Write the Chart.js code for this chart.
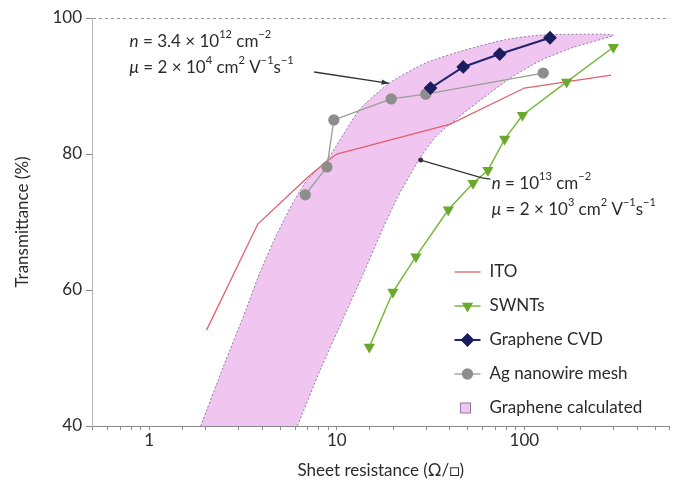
<!DOCTYPE html>
<html lang="en">
<head>
<meta charset="UTF-8">
<title>Transmittance vs sheet resistance</title>
<script src="https://cdn.jsdelivr.net/npm/chart.js@4"></script>
<style>
  html, body { margin: 0; padding: 0; background: #fff; }
</style>
</head>
<body>
<canvas id="chart" width="677" height="483"></canvas>
<script>
// values: sheet resistance (ohm/sq) and transmittance (%)
const itoR = [2.02, 3.79, 6.95, 8.64, 10, 40.3, 100, 290];
const itoT = [54.1, 69.7, 76.5, 78.7, 80.0, 84.4, 89.7, 91.6];

const swntR = [14.9, 19.9, 26.4, 39.3, 53.2, 63.9, 78.5, 97.6, 168, 298];
const swntT = [51.6, 59.7, 64.9, 71.8, 75.7, 77.6, 82.2, 85.7, 90.6, 95.7];

const cvdR = [31.6, 47.2, 73.9, 137];
const cvdT = [89.7, 92.8, 94.7, 97.1];

const agR = [6.79, 8.86, 9.64, 19.5, 29.8, 126];
const agT = [74.0, 78.1, 85.0, 88.1, 88.8, 91.9];

// calculated graphene band: upper edge (bottom -> top), lower edge (top -> bottom)
const bandUpR = [1.88, 2.48, 3.28, 3.88, 4.83, 5.94, 6.95, 8.86, 13.2, 19.0, 29.8, 48.3, 78.5, 123, 298];
const bandUpT = [40, 48.7, 57.1, 62.5, 68.4, 73.2, 76.2, 79.1, 86.5, 90.4, 93.4, 95.3, 96.8, 97.5, 97.5];
const bandLoR = [183, 123, 85.5, 61.5, 44.4, 33.6, 27.3, 20.7, 16.8, 13.9, 10.9, 8.14, 6.16];
const bandLoT = [95.7, 93.8, 91.3, 88.4, 85.4, 82.5, 79.1, 73.2, 67.8, 62.5, 56.0, 48.2, 40];

const xTickLabels = [1, 10, 100];
const yTicks = [40, 60, 80, 100];

const FONT = 'Lato, "DejaVu Sans", sans-serif';
const TXT = '#2b2b2b';

function pts(xs, ys) {
  return xs.map((x, i) => ({ x: x, y: ys[i] }));
}

// draw text with superscripts / italics
function drawRuns(ctx, parts, x, y) {
  let cx = x;
  parts.forEach(function (p) {
    const sup = p[1] === 'sup';
    ctx.font = (p[1] === 'i' ? 'italic ' : '') + (sup ? 11 : 17) + 'px ' + FONT;
    ctx.fillText(p[0], cx, sup ? y - 7 : y);
    cx += ctx.measureText(p[0]).width;
  });
  return cx;
}

const notes = {
  id: 'notes',
  afterDatasetsDraw(chart) {
    const ctx = chart.ctx, sx = chart.scales.x, sy = chart.scales.y;
    const X = v => sx.getPixelForValue(v), Y = v => sy.getPixelForValue(v);
    ctx.save();
    ctx.fillStyle = TXT;
    ctx.strokeStyle = '#333';
    ctx.textBaseline = 'middle';
    ctx.textAlign = 'left';

    // upper label + arrow
    drawRuns(ctx, [['n', 'i'], [' = 3.4 \u00d7 10', ''], ['12', 'sup'], [' cm', ''], ['\u22122', 'sup']], X(0.785), Y(96.5));
    drawRuns(ctx, [['\u03bc', 'i'], [' = 2 \u00d7 10', ''], ['4', 'sup'], [' cm', ''], ['2', 'sup'], [' V', ''], ['\u22121', 'sup'], ['s', ''], ['\u22121', 'sup']], X(0.785), Y(92.7));
    const ax0 = X(7.57), ay0 = Y(92.06), ax1 = X(19.0), ay1 = Y(90.4);
    ctx.lineWidth = 1.3;
    ctx.beginPath(); ctx.moveTo(ax0, ay0); ctx.lineTo(ax1, ay1); ctx.stroke();
    const ang = Math.atan2(ay1 - ay0, ax1 - ax0);
    ctx.beginPath();
    ctx.moveTo(ax1, ay1);
    ctx.lineTo(ax1 - 8 * Math.cos(ang - 0.35), ay1 - 8 * Math.sin(ang - 0.35));
    ctx.lineTo(ax1 - 8 * Math.cos(ang + 0.35), ay1 - 8 * Math.sin(ang + 0.35));
    ctx.closePath(); ctx.fillStyle = '#333'; ctx.fill();

    // lower label + leader
    ctx.beginPath();
    ctx.moveTo(X(28.0), Y(79.1)); ctx.lineTo(X(59.4), Y(76.5)); ctx.lineTo(X(66), Y(76.3));
    ctx.stroke();
    ctx.beginPath(); ctx.arc(X(28.0), Y(79.1), 2.5, 0, Math.PI * 2); ctx.fill();
    ctx.fillStyle = TXT;
    drawRuns(ctx, [['n', 'i'], [' = 10', ''], ['13', 'sup'], [' cm', ''], ['\u22122', 'sup']], X(67), Y(75.7));
    drawRuns(ctx, [['\u03bc', 'i'], [' = 2 \u00d7 10', ''], ['3', 'sup'], [' cm', ''], ['2', 'sup'], [' V', ''], ['\u22121', 'sup'], ['s', ''], ['\u22121', 'sup']], X(67), Y(71.8));
    ctx.restore();
  }
};

// legend inside the plot, lower right
const legendBox = {
  id: 'legendBox',
  afterDraw(chart) {
    const ctx = chart.ctx;
    const area = chart.chartArea;
    const lx = area.right - 215, tx = area.right - 180, y0 = area.bottom - 154, dy = 34;
    ctx.save();
    ctx.textBaseline = 'middle';
    ctx.font = '17px ' + FONT;
    chart.data.datasets.forEach(function (ds, i) {
      const y = y0 + i * dy;
      if (ds.fill) {
        ctx.fillStyle = ds.backgroundColor;
        ctx.strokeStyle = ds.borderColor;
        ctx.lineWidth = 1;
        ctx.fillRect(lx + 6, y - 5, 10, 10);
        ctx.strokeRect(lx + 6, y - 5, 10, 10);
      } else {
        ctx.strokeStyle = ds.borderColor;
        ctx.lineWidth = ds.borderWidth;
        ctx.beginPath(); ctx.moveTo(lx, y); ctx.lineTo(lx + 26, y); ctx.stroke();
        if (ds.pointRadius > 0) {
          ctx.fillStyle = ds.pointBackgroundColor;
          ctx.strokeStyle = ds.pointBorderColor;
          Chart.helpers.drawPoint(ctx, {
            pointStyle: ds.pointStyle, rotation: ds.pointRotation || 0,
            radius: ds.pointRadius, borderWidth: 1
          }, lx + 13, y);
        }
      }
      ctx.fillStyle = TXT;
      ctx.font = '17px ' + FONT;
      ctx.fillText(ds.label, tx, y);
    });
    ctx.restore();
  }
};

new Chart(document.getElementById('chart'), {
  type: 'scatter',
  data: {
    datasets: [
      {
        label: 'ITO', data: pts(itoR, itoT), showLine: true, order: 4,
        borderColor: '#e2606b', borderWidth: 1.3, pointRadius: 0
      },
      {
        label: 'SWNTs', data: pts(swntR, swntT), showLine: true, order: 2,
        borderColor: '#78b83c', borderWidth: 1.5,
        pointStyle: 'triangle', pointRotation: 180, pointRadius: 5,
        pointBackgroundColor: '#6aa92d', pointBorderColor: '#6aa92d'
      },
      {
        label: 'Graphene CVD', data: pts(cvdR, cvdT), showLine: true, order: 1,
        borderColor: '#23246e', borderWidth: 2,
        pointStyle: 'rectRot', pointRadius: 5.5,
        pointBackgroundColor: '#1c1d5e', pointBorderColor: '#1c1d5e'
      },
      {
        label: 'Ag nanowire mesh', data: pts(agR, agT), showLine: true, order: 3,
        borderColor: '#93a08e', borderWidth: 1.3,
        pointStyle: 'circle', pointRadius: 5,
        pointBackgroundColor: '#8d8d8d', pointBorderColor: '#8d8d8d'
      },
      {
        label: 'Graphene calculated',
        data: pts(bandUpR.concat(bandLoR), bandUpT.concat(bandLoT)),
        showLine: true, order: 5, fill: 'shape', tension: 0.2,
        backgroundColor: '#f0c6f0', borderColor: '#8f7aa6', borderWidth: 1,
        borderDash: [2, 2], pointRadius: 0
      }
    ]
  },
  options: {
    responsive: false,
    animation: false,
    layout: { padding: { top: 18, right: 0, bottom: 0, left: 0 } },
    plugins: { legend: { display: false }, tooltip: { enabled: false } },
    scales: {
      x: {
        type: 'logarithmic', min: 0.495, max: 594,
        afterFit: s => { s.height = 57; },
        border: { color: '#8a8a8a', width: 1 },
        grid: { drawOnChartArea: false, tickLength: 4, tickColor: '#8a8a8a' },
        ticks: {
          autoSkip: false, maxRotation: 0, padding: 0, color: TXT,
          font: { family: FONT, size: 17 },
          callback: v => xTickLabels.includes(Number(v.toPrecision(6))) ? String(Number(v.toPrecision(6))) : ''
        },
        title: {
          display: true, text: 'Sheet resistance (\u03a9/\u25a1)', color: TXT,
          font: { family: FONT, size: 17 }, padding: { top: 0, bottom: 2 }
        }
      },
      y: {
        min: 40, max: 100,
        afterFit: s => { s.width = 92; },
        afterBuildTicks: s => { s.ticks = yTicks.map(v => ({ value: v })); },
        border: { color: '#b5b5b5', width: 1, dash: [3, 3] },
        grid: {
          tickLength: 6, tickColor: '#8a8a8a',
          color: c => (c.tick && c.tick.value === 100) ? '#9a9a9a' : 'rgba(0,0,0,0)'
        },
        ticks: { padding: 4, color: TXT, font: { family: FONT, size: 17 } },
        title: {
          display: true, text: 'Transmittance (%)', color: TXT,
          font: { family: FONT, size: 17 }, padding: { top: 12, bottom: 0 }
        }
      }
    }
  },
  plugins: [notes, legendBox]
});
</script>
</body>
</html>
